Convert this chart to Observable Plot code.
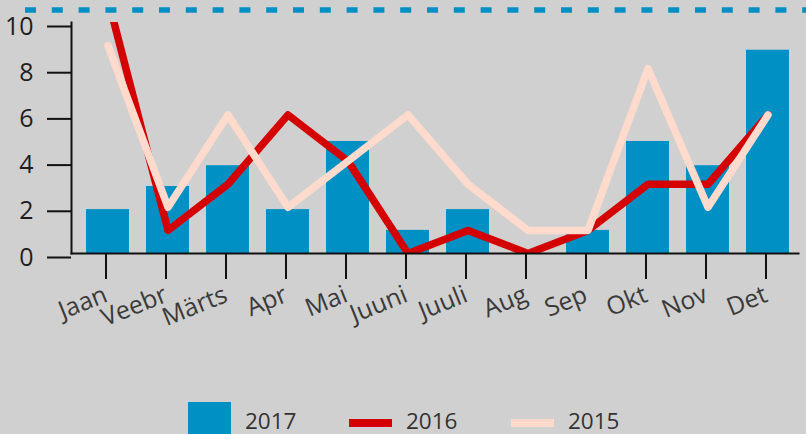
<!DOCTYPE html>
<html><head><meta charset="utf-8">
<script src="https://cdn.jsdelivr.net/npm/d3@7"></script>
<script src="https://cdn.jsdelivr.net/npm/@observablehq/plot@0.6"></script>
<style>
html,body{margin:0;padding:0;background:#d0d0d0;overflow:hidden;width:806px;height:434px;}
#legend{position:relative;height:39px;font-family:"Open Sans",sans-serif;font-size:22.5px;color:#333;}
#legend .sw{position:absolute;}
#legend .lb{position:absolute;line-height:20px;white-space:nowrap;}
</style></head><body>
<div id="chart"></div>
<div id="legend"></div>
<script>
// ---- data ----
const months = ["Jaan","Veebr","Märts","Apr","Mai","Juuni","Juuli","Aug","Sep","Okt","Nov","Det"];
const v2017 = [1.9, 2.9, 3.8, 1.9, 4.85, 1, 1.9, 0, 1, 4.85, 3.8, 8.8];
const v2016 = [11, 1, 3, 6, 4, 0, 1, 0, 1, 3, 3, 6];
const v2015 = [9, 2, 6, 2, 4, 6, 3, 1, 1, 8, 2, 6];
const seriesNames = ["2017", "2016", "2015"];
const yTicks = [0, 2, 4, 6, 8, 10];

// ---- styles ----
const colors = {"2017": "#0090c4", "2016": "#d40000", "2015": "#ffdacd"};

const rows = months.map((m, i) => ({month: m, v2017: v2017[i], v2016: v2016[i], v2015: v2015[i]}));

const chart = Plot.plot({
  width: 806, height: 395,
  marginLeft: 71, marginRight: 8, marginTop: 22, marginBottom: 142,
  style: {background: "#d0d0d0", fontFamily: "Open Sans, sans-serif", fontSize: "25px", overflow: "visible"},
  x: {type: "band", domain: months, range: [71, 804], paddingInner: 0.29, paddingOuter: 0.215, label: null},
  y: {domain: [0, 10], label: null},
  marks: [
    Plot.barY(rows, {x: "month", y: "v2017", fill: colors["2017"]}),
    Plot.line(rows, {x: "month", y: "v2016", stroke: colors["2016"], strokeWidth: 7.5, strokeLinejoin: "round", strokeLinecap: "round", clip: true}),
    Plot.line(rows, {x: "month", y: "v2015", stroke: colors["2015"], strokeWidth: 7.5, strokeLinejoin: "round", strokeLinecap: "round", clip: true}),
    Plot.frame({anchor: "left", stroke: "#111", strokeWidth: 2}),
    Plot.frame({anchor: "bottom", stroke: "#111", strokeWidth: 2}),
    Plot.axisY({ticks: yTicks, tickSize: 24, tickPadding: 14, tickFormat: d => String(d), fill: "#1e1e1e", stroke: "#111", strokeWidth: 2, dy: 4, fontSize: 25}),
    Plot.axisX({tickSize: 26, tickPadding: 14, tickRotate: -22, fill: "#3a3a3a", stroke: "#111", strokeWidth: 2, dx: -2, fontSize: 25})
  ]
});
document.getElementById("chart").appendChild(chart);

// decorative dashed line at the top
d3.select(chart).append("line")
  .attr("x1", 25).attr("x2", 806).attr("y1", 10).attr("y2", 10)
  .attr("stroke", colors["2017"]).attr("stroke-width", 5.5)
  .attr("stroke-dasharray", "11 15.8");

// legend
const legend = d3.select("#legend");
const pos = [{sw: 188, lb: 245}, {sw: 349, lb: 406}, {sw: 511, lb: 568}];
seriesNames.forEach((s, i) => {
  const p = pos[i];
  const sw = legend.append("div").attr("class", "sw")
    .style("left", p.sw + "px").style("background", colors[s]).style("width", "43px");
  if (i === 0) sw.style("top", "7px").style("height", "43px");
  else sw.style("top", "24px").style("height", "8px");
  legend.append("div").attr("class", "lb").style("left", p.lb + "px").style("top", "16px").text(s);
});
</script>
</body></html>
